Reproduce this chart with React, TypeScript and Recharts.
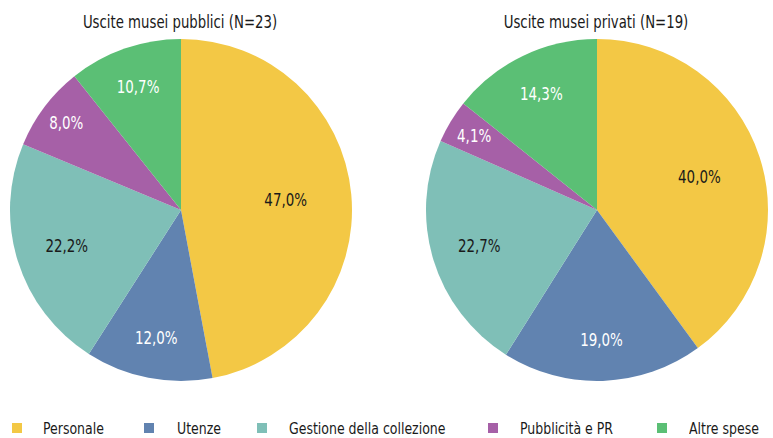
import React from 'react';
import { PieChart, Pie, Cell } from 'recharts';

// categories shared by both pies
const CATEGORIES = ['Personale', 'Utenze', 'Gestione della collezione', 'Pubblicità e PR', 'Altre spese'];
const COLORS = ['#F3C845', '#6183B0', '#7FBFB7', '#A660A7', '#5BBF75'];
const LABEL_FILL = ['#1a1a1a', '#ffffff', '#1a1a1a', '#ffffff', '#ffffff'];

const PUBBLICI = [47.0, 12.0, 22.2, 8.0, 10.7];
const PRIVATI = [40.0, 19.0, 22.7, 4.1, 14.3];

const TITLE_PUBBLICI = 'Uscite musei pubblici (N=23)';
const TITLE_PRIVATI = 'Uscite musei privati (N=19)';

// where each label sits along the radius (Excel "best fit" look)
const LABEL_POS_PUBBLICI = [0.615, 0.76, 0.7, 0.84, 0.76];
const LABEL_POS_PRIVATI = [0.63, 0.76, 0.72, 0.84, 0.75];

const FONT = '"DejaVu Sans Condensed", "DejaVu Sans", sans-serif';
const RAD = Math.PI / 180;

const fmt = (v: number) => v.toFixed(1).replace('.', ',') + '%';

const toRows = (vals: number[]) => CATEGORIES.map((name, i) => ({ name, value: vals[i] }));

/* eslint-disable @typescript-eslint/no-explicit-any */
const makeLabel = (pos: number[]) => (props: any) => {
  const { cx, cy, midAngle, outerRadius, index, value } = props;
  const r = outerRadius * pos[index];
  const x = cx + r * Math.cos(-midAngle * RAD);
  const y = cy + r * Math.sin(-midAngle * RAD);
  return (
    <text
      x={0}
      y={0}
      transform={`translate(${x},${y}) scale(0.83,1)`}
      fill={LABEL_FILL[index]}
      textAnchor="middle"
      dominantBaseline="central"
      style={{ fontFamily: FONT, fontSize: 18 }}
    >
      {fmt(value)}
    </text>
  );
};

function Title({ text, x }: { text: string; x: number }) {
  return (
    <div
      style={{
        position: 'absolute', top: 11, left: x - 150, width: 300, textAlign: 'center',
        fontFamily: FONT, fontSize: 18, color: '#1a1a1a', lineHeight: '22px',
        transform: 'scaleX(0.82)', transformOrigin: 'center',
      }}
    >
      {text}
    </div>
  );
}

export default function App() {
  const squareX = [12, 144, 257, 488, 657];
  const textX = [43, 177, 289, 520, 689];
  return (
    <div style={{ position: 'absolute', top: 0, left: 0, width: 773, height: 438, background: '#fff', overflow: 'hidden' }}>
      <PieChart width={773} height={438} margin={{ top: 0, right: 0, bottom: 0, left: 0 }}>
        <Pie
          data={toRows(PUBBLICI)}
          dataKey="value"
          nameKey="name"
          cx={181}
          cy={210}
          outerRadius={171}
          startAngle={90}
          endAngle={-270}
          stroke="none"
          labelLine={false}
          label={makeLabel(LABEL_POS_PUBBLICI)}
          isAnimationActive={false}
        >
          {CATEGORIES.map((c, i) => <Cell key={c} fill={COLORS[i]} />)}
        </Pie>
        <Pie
          data={toRows(PRIVATI)}
          dataKey="value"
          nameKey="name"
          cx={597}
          cy={210}
          outerRadius={171}
          startAngle={90}
          endAngle={-270}
          stroke="none"
          labelLine={false}
          label={makeLabel(LABEL_POS_PRIVATI)}
          isAnimationActive={false}
        >
          {CATEGORIES.map((c, i) => <Cell key={c} fill={COLORS[i]} />)}
        </Pie>
      </PieChart>
      <Title text={TITLE_PUBBLICI} x={180} />
      <Title text={TITLE_PRIVATI} x={596} />
      {CATEGORIES.map((c, i) => (
        <React.Fragment key={c}>
          <span
            style={{ position: 'absolute', top: 423, left: squareX[i], width: 10, height: 10, background: COLORS[i] }}
          />
          <div
            style={{
              position: 'absolute', top: 419, left: textX[i], fontFamily: FONT, fontSize: 16, lineHeight: '20px',
              color: '#1a1a1a', whiteSpace: 'nowrap', transform: 'scaleX(0.87)', transformOrigin: 'left',
            }}
          >
            {c}
          </div>
        </React.Fragment>
      ))}
    </div>
  );
}
